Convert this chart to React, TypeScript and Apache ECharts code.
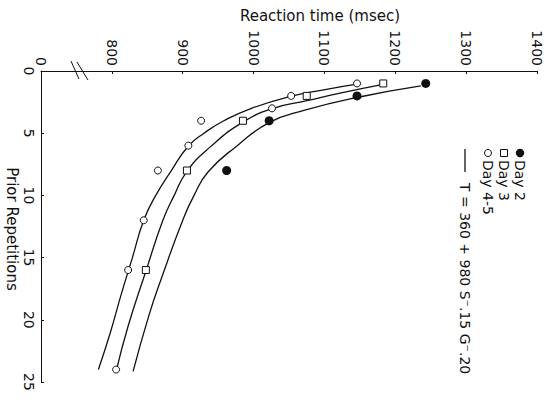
import React, { useEffect, useRef } from "react";
import * as echarts from "echarts";

// Reaction time (msec) vs prior repetitions
const day2Points: [number, number][] = [
  [1243, 1], [1146, 2], [1022, 4], [962, 8],
];
const day3Points: [number, number][] = [
  [1183, 1], [1075, 2], [985, 4], [906, 8], [848, 16],
];
const day45Points: [number, number][] = [
  [1146, 1], [1053, 2], [1026, 3], [926, 4], [908, 6], [865, 8], [845, 12], [823, 16], [806, 24],
];

// fitted curves
const curveDay2: [number, number][] = [
  [1236, 1.2], [1146, 2.13], [1071, 3.17], [1022, 4.15], [977, 6.0], [936, 8.1], [916, 10.0], [901, 11.85], [871, 16.5], [852, 19.7], [830, 24.15],
];
const curveDay3: [number, number][] = [
  [1183, 1.08], [1122, 1.78], [1075, 2.39], [1028, 3.0], [985, 4.11], [939, 6.1], [906, 8.06], [888, 10], [872, 12], [848, 16.1], [823, 20.5], [806, 24.15],
];
const curveDay45: [number, number][] = [
  [1146, 1.06], [1099, 1.51], [1052, 2.04], [997, 3.0], [958, 4.0], [930, 5.0], [908, 6.03], [884, 8], [862, 10], [845, 12], [829, 15], [813, 18], [798, 21], [781, 24],
];

const xMin = 700;
const xMax = 1400;
const xStep = 100;
const yMin = 0;
const yMax = 25;
const yStep = 5;

const legendLabels = ["Day 2", "Day 3", "Day 4-5"];
const formulaLabel = "T = 360 + 980 S\u207B.15 G\u207B.20";
const xTitle = "Reaction time (msec)";
const yTitle = "Prior Repetitions";

const FONT = "'DejaVu Sans', sans-serif";
const INK = "#111";

export default function App() {
  const ref = useRef<HTMLDivElement>(null);
  useEffect(() => {
    if (!ref.current) return;
    const chart = echarts.init(ref.current, null, { renderer: "svg" });
    const lineSeries = (data: [number, number][]) => ({
      type: "line",
      data,
      smooth: 0.5,
      showSymbol: false,
      symbol: "none",
      lineStyle: { color: INK, width: 1.3 },
      z: 2,
    });
    chart.setOption({
      animation: false,
      backgroundColor: "#fff",
      grid: { left: 41, right: 13, top: 71, bottom: 17 },
      xAxis: {
        type: "value",
        position: "top",
        min: xMin,
        max: xMax,
        interval: xStep,
        axisLine: { show: true, lineStyle: { color: INK, width: 1 } },
        axisTick: { show: true, inside: true, length: 3, lineStyle: { color: INK } },
        splitLine: { show: false },
        axisLabel: {
          rotate: -90,
          margin: 5,
          color: INK,
          fontFamily: FONT,
          fontSize: 14,
          formatter: (v: number) => (v === xMin ? "0" : String(v)),
        },
      },
      yAxis: {
        type: "value",
        inverse: true,
        min: yMin,
        max: yMax,
        interval: yStep,
        axisLine: { show: true, lineStyle: { color: INK, width: 1 } },
        axisTick: { show: true, inside: true, length: 3, lineStyle: { color: INK } },
        splitLine: { show: false },
        axisLabel: {
          rotate: -90,
          margin: 5,
          color: INK,
          fontFamily: FONT,
          fontSize: 14,
        },
      },
      series: [
        lineSeries(curveDay2),
        lineSeries(curveDay3),
        lineSeries(curveDay45),
        {
          type: "scatter",
          name: legendLabels[0],
          data: day2Points,
          symbol: "circle",
          symbolSize: 9,
          itemStyle: { color: INK, opacity: 1 },
          z: 3,
        },
        {
          type: "scatter",
          name: legendLabels[1],
          data: day3Points,
          symbol: "rect",
          symbolSize: 7,
          itemStyle: { color: "#fff", borderColor: INK, borderWidth: 1, opacity: 1 },
          z: 3,
        },
        {
          type: "scatter",
          name: legendLabels[2],
          data: day45Points,
          symbol: "circle",
          symbolSize: 7,
          itemStyle: { color: "#fff", borderColor: INK, borderWidth: 1, opacity: 1 },
          z: 3,
        },
      ],
    });
    const p = chart.convertToPixel({ xAxisIndex: 0, yAxisIndex: 0 }, [755, 0]) as number[];
    const bx = p[0];
    const by = p[1];
    const textStyle = { fill: INK, font: `14px ${FONT}` };
    chart.setOption({
      graphic: [
        { type: "line", shape: { x1: bx - 9, y1: by - 10, x2: bx - 1, y2: by + 8 }, style: { stroke: INK, lineWidth: 1 } },
        { type: "line", shape: { x1: bx - 3, y1: by - 9, x2: bx + 8, y2: by + 9 }, style: { stroke: INK, lineWidth: 1 } },
        {
          type: "text", x: 320, y: 16,
          style: { text: xTitle, fill: INK, font: `15px ${FONT}`, align: "center", verticalAlign: "middle" },
        },
        {
          type: "text", x: 12, y: 229, rotation: -Math.PI / 2,
          style: { text: yTitle, fill: INK, font: `15px ${FONT}`, align: "center", verticalAlign: "middle" },
        },
        { type: "circle", shape: { cx: 520, cy: 153, r: 4.2 }, style: { fill: INK } },
        { type: "rect", shape: { x: 500.5, y: 149.5, width: 7, height: 7 }, style: { fill: "#fff", stroke: INK, lineWidth: 1 } },
        { type: "circle", shape: { cx: 488, cy: 153, r: 3.5 }, style: { fill: "#fff", stroke: INK, lineWidth: 1 } },
        { type: "text", x: 520, y: 160, rotation: -Math.PI / 2, style: { ...textStyle, text: legendLabels[0], align: "left", verticalAlign: "middle" } },
        { type: "text", x: 504, y: 160, rotation: -Math.PI / 2, style: { ...textStyle, text: legendLabels[1], align: "left", verticalAlign: "middle" } },
        { type: "text", x: 488, y: 160, rotation: -Math.PI / 2, style: { ...textStyle, text: legendLabels[2], align: "left", verticalAlign: "middle" } },
        { type: "line", shape: { x1: 465, y1: 149, x2: 465, y2: 172 }, style: { stroke: INK, lineWidth: 1.3 } },
        { type: "text", x: 465, y: 183, rotation: -Math.PI / 2, style: { ...textStyle, text: formulaLabel, align: "left", verticalAlign: "middle" } },
      ],
    });
    return () => chart.dispose();
  }, []);
  return (
    <div
      ref={ref}
      style={{ position: "fixed", left: 0, top: 0, width: 550, height: 399, background: "#fff" }}
    />
  );
}
